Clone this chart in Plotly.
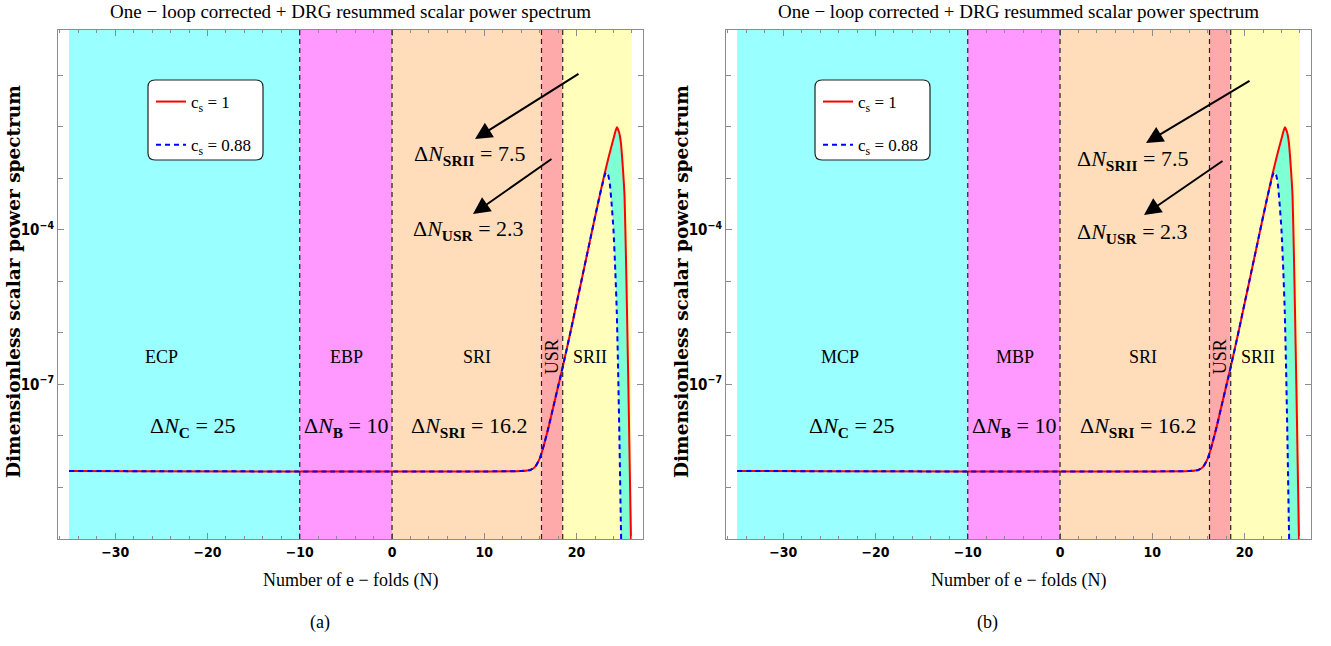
import plotly.graph_objects as go

W, H = 1331, 646

# ---------------- data ----------------
N_red = [-35, 14.0, 15.0, 15.5, 16.0, 16.5, 17.0, 17.5, 18.0, 18.5, 19.0, 19.5, 20.0, 20.5,
         21.0, 21.5, 22.0, 22.5, 23.0, 23.5, 24.0, 24.36, 24.6, 24.8, 25.0, 25.2, 25.35,
         25.5, 25.65, 25.8, 25.95]
P_red = [2.09e-9, 2.09e-9, 2.19e-9, 2.51e-9, 3.63e-9, 7.08e-9, 1.58e-8, 3.80e-8, 9.12e-8,
         2.19e-7, 5.50e-7, 1.41e-6, 3.72e-6, 9.77e-6, 2.57e-5, 6.76e-5, 1.78e-4, 4.57e-4,
         1.15e-3, 2.69e-3, 5.89e-3, 9.77e-3, 7.94e-3, 5.01e-3, 1.78e-3, 4.47e-4, 3.16e-5,
         1.26e-6, 3.98e-8, 1.0e-9, 2.5e-11]

N_blue = [-35, 14.0, 15.0, 15.5, 16.0, 16.5, 17.0, 17.5, 18.0, 18.5, 19.0, 19.5, 20.0, 20.5,
          21.0, 21.5, 22.0, 22.5, 22.8, 23.0, 23.2, 23.4, 23.6, 23.8, 24.0, 24.2, 24.36,
          24.5, 24.65, 24.8, 24.9]
P_blue = [2.09e-9, 2.09e-9, 2.19e-9, 2.51e-9, 3.63e-9, 7.08e-9, 1.58e-8, 3.80e-8, 9.12e-8,
          2.19e-7, 5.50e-7, 1.41e-6, 3.72e-6, 9.77e-6, 2.57e-5, 6.76e-5, 1.78e-4, 4.57e-4,
          7.6e-4, 1.07e-3, 1.32e-3, 1.20e-3, 7.9e-4, 3.16e-4, 1.0e-4, 1.58e-5, 2.5e-6,
          2.0e-7, 7.9e-9, 2.0e-10, 2.5e-11]

boundaries = [-35, -10, 0, 16.2, 18.5, 26]
region_colors = ["#99FFFF", "#FF99FF", "#FFDDBB", "#FFAAAA", "#FFFFBB"]
dashed_at = [-10, 0, 16.2, 18.5]

labels_a = ["ECP", "EBP", "SRI", "USR", "SRII"]
labels_b = ["MCP", "MBP", "SRI", "USR", "SRII"]
label_x_a = [-25.0, -4.9, 9.2, 17.3, 21.5]
label_x_b = [-23.8, -4.9, 9.0, 17.3, 21.5]

dn_texts = ["ΔN<sub><b>C</b></sub> = 25", "ΔN<sub><b>B</b></sub> = 10", "ΔN<sub><b>SRI</b></sub> = 16.2"]
dn_x_a = [-21.6, -4.9, 8.3]
dn_x_b = [-22.6, -4.9, 8.4]

x_tickvals = [-30, -20, -10, 0, 10, 20]
x_ticktext = ["<b>−30</b>", "<b>−20</b>", "<b>−10</b>", "<b>0</b>", "<b>10</b>", "<b>20</b>"]
y_tickvals = [1e-4, 1e-7]
y_ticktext = ["<b>10<sup>−4</sup></b>", "<b>10<sup>−7</sup></b>"]
y_minor = [1e-9, 1e-8, 1e-6, 1e-5, 1e-3, 1e-2, 1e-1]

SERIF = "Liberation Serif, Times New Roman, serif"
SANSN = "Liberation Sans Narrow, DejaVu Sans Condensed, Arial Narrow, sans-serif"
FRAME = "#8c8c8c"


def P(x, y):
    return x / W, 1 - y / H


fig = go.Figure()

panels = [
    dict(xa="x", ya="y", leg="legend", labels=labels_a, lx=label_x_a, dx=dn_x_a,
         cx=350.5, sub="(a)", subx=320, ytx=14,
         arrows=[((580, 73), (475, 139)), ((553, 158), (473, 214))],
         dn2=[(469.5, 155, "ΔN<sub><b>SRII</b></sub> = 7.5"), (468, 230, "ΔN<sub><b>USR</b></sub> = 2.3")],
         legbox=(148, 80, 263, 160)),
    dict(xa="x2", ya="y2", leg="legend2", labels=labels_b, lx=label_x_b, dx=dn_x_b,
         cx=1018.5, sub="(b)", subx=987, ytx=682,
         arrows=[((1251, 80), (1146, 143)), ((1224, 160), (1144, 215))],
         dn2=[(1132, 160, "ΔN<sub><b>SRII</b></sub> = 7.5"), (1132, 233, "ΔN<sub><b>USR</b></sub> = 2.3")],
         legbox=(815, 80, 930, 160)),
]

shapes = []
annotations = []
Y_TOP, Y_BOT = 30, 539


def note(x, y, text, size, family=SERIF, angle=0, xref="paper", yref="paper"):
    if xref == "paper":
        x, y = P(x, y)
    return dict(x=x, y=y, xref=xref, yref=yref, text=text, showarrow=False,
                xanchor="center", yanchor="middle", textangle=angle,
                font=dict(family=family, size=size, color="black"))


for i, p in enumerate(panels):
    xa, ya = p["xa"], p["ya"]
    # fill between curves
    fig.add_trace(go.Scatter(
        x=N_red + N_blue[::-1], y=P_red + P_blue[::-1], mode="lines", fill="toself",
        fillcolor="rgb(127,255,212)", line=dict(width=0, shape="spline", smoothing=0.5),
        hoverinfo="skip", showlegend=False, xaxis=xa, yaxis=ya))
    fig.add_trace(go.Scatter(
        x=N_red, y=P_red, mode="lines", name="c<sub>s</sub> = 1",
        line=dict(color="#FF0000", width=2, shape="spline", smoothing=0.5),
        xaxis=xa, yaxis=ya, legend=p["leg"], legendgroup="r%d" % i))
    fig.add_trace(go.Scatter(
        x=N_blue, y=P_blue, mode="lines", name="c<sub>s</sub> = 0.88",
        line=dict(color="#0000FF", width=2, dash="5px,4px", shape="spline", smoothing=0.5),
        xaxis=xa, yaxis=ya, legend=p["leg"], legendgroup="b%d" % i))

    # background regions
    for k, col in enumerate(region_colors):
        shapes.append(dict(type="rect", xref=xa, yref=ya + " domain", x0=boundaries[k],
                           x1=boundaries[k + 1], y0=0, y1=1, fillcolor=col,
                           line=dict(width=0), layer="below"))
    for b in dashed_at:
        shapes.append(dict(type="line", xref=xa, yref=ya + " domain", x0=b, x1=b, y0=0, y1=1,
                           line=dict(color="#222222", width=1.2, dash="5px,4px"), layer="above"))

    # legend rounded box
    x0, y0, x1, y1 = p["legbox"]
    r = 7
    px0, py1 = P(x0, y1)
    px1, py0 = P(x1, y0)
    rx, ry = r / W, r / H
    path = (f"M {px0+rx},{py0} L {px1-rx},{py0} Q {px1},{py0} {px1},{py0-ry} "
            f"L {px1},{py1+ry} Q {px1},{py1} {px1-rx},{py1} L {px0+rx},{py1} "
            f"Q {px0},{py1} {px0},{py1+ry} L {px0},{py0-ry} Q {px0},{py0} {px0+rx},{py0} Z")
    shapes.append(dict(type="path", xref="paper", yref="paper", path=path,
                       fillcolor="white", line=dict(color="#222222", width=1.2), layer="above"))

    # region labels
    for lab, lx in zip(p["labels"], p["lx"]):
        annotations.append(note(lx, -6.46, lab, 18, angle=-90 if lab == "USR" else 0,
                                xref=xa, yref=ya))
    for t, dx in zip(dn_texts, p["dx"]):
        annotations.append(note(dx, -7.82, t.replace("ΔN", "Δ<i>N</i>"), 22, xref=xa, yref=ya))
    for (tx, ty, t) in p["dn2"]:
        annotations.append(note(tx, ty, t.replace("ΔN", "Δ<i>N</i>"), 22))
    for (tail, head) in p["arrows"]:
        hx, hy = P(*head)
        annotations.append(dict(x=hx, y=hy, xref="paper", yref="paper", text="",
                                showarrow=True, ax=tail[0] - head[0], ay=tail[1] - head[1],
                                arrowhead=2, arrowsize=1.7, arrowwidth=2, arrowcolor="black",
                                standoff=0))
    # titles
    annotations.append(note(p["cx"], 12, "One − loop corrected + DRG resummed scalar power spectrum", 19))
    annotations.append(note(p["cx"], 580, "Number of e − folds (N)", 18))
    annotations.append(note(p["subx"], 622, p["sub"], 18))
    annotations.append(note(p["ytx"], 282, "<b>Dimensionless scalar power spectrum</b>", 18.5,
                            family="DejaVu Serif, serif", angle=-90))

xaxis_common = dict(range=[-36.2, 27.2], tickmode="array", tickvals=x_tickvals,
                    ticktext=x_ticktext, ticks="inside", ticklen=6, tickcolor=FRAME,
                    showline=True, linecolor=FRAME, linewidth=1, mirror="ticks",
                    showgrid=False, zeroline=False,
                    tickfont=dict(family=SANSN, size=14, color="black"),
                    minor=dict(dtick=2, tick0=0, ticks="inside", ticklen=3, tickcolor=FRAME,
                               showgrid=False))
yaxis_common = dict(type="log", range=[-10.0, -0.12], tickmode="array", tickvals=y_tickvals,
                    ticktext=y_ticktext, ticks="inside", ticklen=6, tickcolor=FRAME,
                    showline=True, linecolor=FRAME, linewidth=1, mirror="ticks",
                    showgrid=False, zeroline=False,
                    tickfont=dict(family=SANSN, size=15, color="black"),
                    minor=dict(tickvals=y_minor, ticks="inside", ticklen=5, tickcolor=FRAME,
                               showgrid=False))

yd = (1 - Y_BOT / H, 1 - Y_TOP / H)
fig.update_layout(
    width=W, height=H, margin=dict(l=0, r=0, t=0, b=0),
    paper_bgcolor="white", plot_bgcolor="white",
    xaxis=dict(domain=[58 / W, 643 / W], anchor="y", **xaxis_common),
    yaxis=dict(domain=list(yd), anchor="x", **yaxis_common),
    xaxis2=dict(domain=[726 / W, 1311 / W], anchor="y2", **xaxis_common),
    yaxis2=dict(domain=list(yd), anchor="x2", **yaxis_common),
    shapes=shapes, annotations=annotations,
    legend=dict(x=P(151, 0)[0], y=P(0, 84)[1], xanchor="left", yanchor="top",
                bgcolor="rgba(0,0,0,0)", borderwidth=0, traceorder="grouped",
                tracegroupgap=18, font=dict(family=SERIF, size=17, color="black")),
    legend2=dict(x=P(818, 0)[0], y=P(0, 84)[1], xanchor="left", yanchor="top",
                 bgcolor="rgba(0,0,0,0)", borderwidth=0, traceorder="grouped",
                 tracegroupgap=18, font=dict(family=SERIF, size=17, color="black")),
    showlegend=True,
)

fig.write_html("out.html", config={"displayModeBar": False},
               post_script="document.body.style.margin='0';document.body.style.padding='0';")
